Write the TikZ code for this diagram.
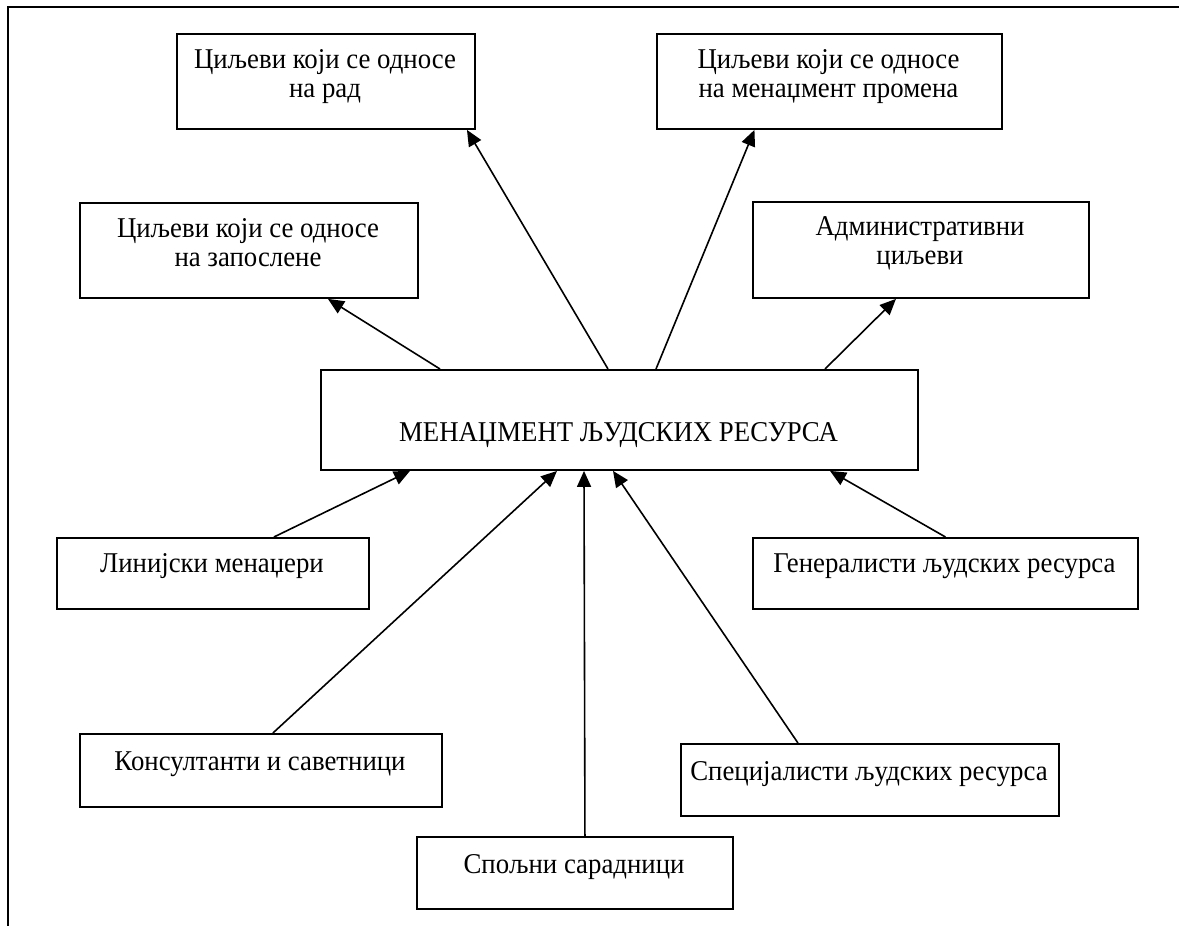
\documentclass[tikz,border=0pt]{standalone}
\usepackage{graphicx}
\usepackage{fontspec}
\setmainfont{Liberation Serif}
\usetikzlibrary{arrows.meta}
% slightly taller lettering
\newcommand{\tallset}[1]{\scalebox{1}[1.07]{#1}}
\newcommand{\twolines}[2]{\tallset{\begin{tabular}[t]{@{}c@{}}#1\\#2\end{tabular}}}
\begin{document}
\begin{tikzpicture}[x=1pt,y=-1pt,
  box/.style={draw=black, line width=1.9pt, rectangle, inner sep=0pt, anchor=north west},
  lbl/.style={anchor=base, inner sep=0pt, font=\fontsize{26.8}{28}\selectfont},
  link/.style={line width=1.6pt, -{Triangle[length=16pt,width=14pt]}}]
\useasboundingbox (0,0) rectangle (1179,926);
% page frame (top and left edges)
\draw[line width=2pt] (8,926) -- (8,7) -- (1179,7);

% central box
\node[box, minimum width=597, minimum height=100] (c) at (320,369) {};
\node[lbl] (tc) at (618.5,441) {\tallset{МЕНАЏМЕНТ ЉУДСКИХ РЕСУРСА}};

% goals
\node[box, minimum width=338, minimum height=95] (e1) at (79,202) {};
\node[lbl] (te1) at (248,237) {\twolines{Циљеви који се односе}{на запослене}};
\node[box, minimum width=298, minimum height=95] (e2) at (176,33) {};
\node[lbl] (te2) at (325,68) {\twolines{Циљеви који се односе}{на рад}};
\node[box, minimum width=345, minimum height=95] (e3) at (656,33) {};
\node[lbl] (te3) at (828.5,68) {\twolines{Циљеви који се односе}{на менаџмент промена}};
\node[box, minimum width=336, minimum height=96] (e4) at (752,201) {};
\node[lbl] (te4) at (920,235) {\twolines{Административни}{циљеви}};

% participants
\node[box, minimum width=312, minimum height=71] (p1) at (56,537) {};
\node[lbl] (tp1) at (212,572) {\tallset{Линијски менаџери}};
\node[box, minimum width=385, minimum height=71] (p2) at (752,537) {};
\node[lbl] (tp2) at (944.5,572) {\tallset{Генералисти људских ресурса}};
\node[box, minimum width=362, minimum height=73] (p3) at (79,733) {};
\node[lbl] (tp3) at (260,770) {\tallset{Консултанти и саветници}};
\node[box, minimum width=378, minimum height=72] (p4) at (680,743) {};
\node[lbl] (tp4) at (869,780) {\tallset{Специјалисти људских ресурса}};
\node[box, minimum width=316, minimum height=72] (p5) at (416,836) {};
\node[lbl] (tp5) at (574,873) {\tallset{Спољни сарадници}};

% outgoing arrows
\draw[link] ([xshift=120]c.north west) -- ([xshift=79]e1.south);
\draw[link] ([xshift=288]c.north west) -- ([xshift=141]e2.south);
\draw[link] ([xshift=336]c.north west) -- ([xshift=-75]e3.south);
\draw[link] ([xshift=505]c.north west) -- ([xshift=-25]e4.south);

% incoming arrows
\draw[link] ([xshift=61]p1.north) -- ([xshift=90]c.south west);
\draw[link] ([xshift=12]p3.north) -- ([xshift=237]c.south west);
\draw[link] ([xshift=10]p5.north) -- ([xshift=264]c.south west);
\draw[link] ([xshift=-72]p4.north) -- ([xshift=293]c.south west);
\draw[link] ([xshift=0]p2.north) -- ([xshift=510]c.south west);
\end{tikzpicture}
\end{document}
